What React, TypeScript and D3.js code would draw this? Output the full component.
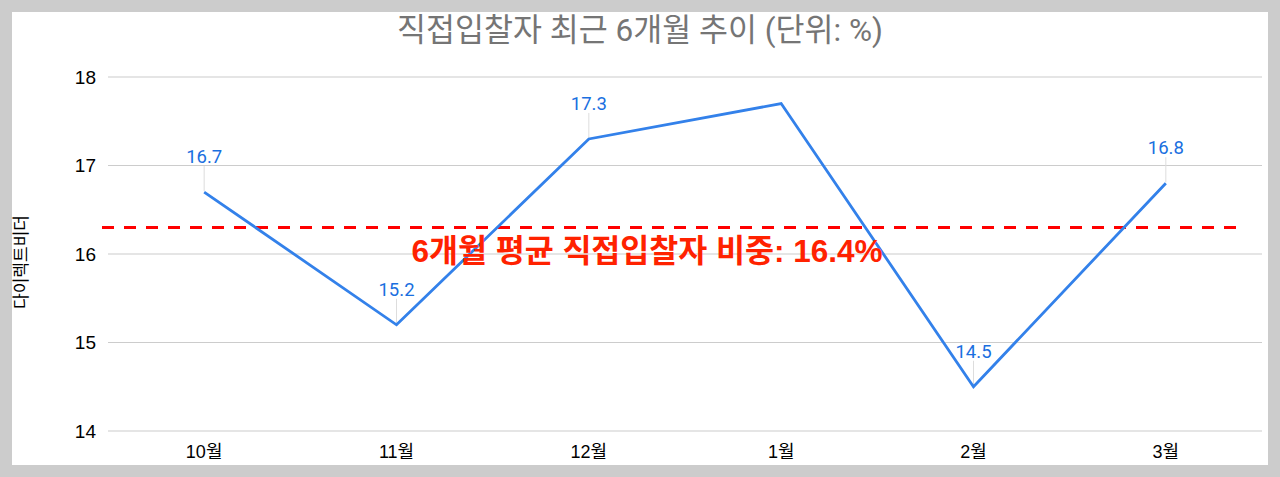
import * as d3 from "d3";

const months = ["10월", "11월", "12월", "1월", "2월", "3월"];
const shares = [16.7, 15.2, 17.3, 17.7, 14.5, 16.8];
const shownLabels = [true, true, true, false, true, true];
const yTicks = [14, 15, 16, 17, 18];
const avgLine = 16.3;
const title = "직접입찰자 최근 6개월 추이 (단위: %)";
const yTitle = "다이렉트비더";
const note = "6개월 평균 직접입찰자 비중: 16.4%";

const W = 1280;
const H = 477;
const plot = { left: 108, right: 1262, top: 77, bottom: 431 };
const LINE = "#3381ea";
const LABEL = "#1a6fe0";
const tickFont = "'Liberation Sans', Arial, 'Noto Sans CJK KR', sans-serif";
const titleFont = "Roboto, 'Noto Sans CJK KR', sans-serif";

export default function App() {
  const x = d3.scaleBand<string>().domain(months).range([plot.left, plot.right]);
  const y = d3.scaleLinear().domain([14, 18]).range([plot.bottom, plot.top]);
  const cx = (m: string) => (x(m) ?? 0) + x.bandwidth() / 2;

  const pts = months.map((m, i) => ({ m, v: shares[i], show: shownLabels[i] }));
  const line = d3.line<{ m: string; v: number }>().x(d => cx(d.m)).y(d => y(d.v));

  return (
    <div style={{ position: "absolute", left: 0, top: 0 }}>
      <svg width={W} height={H} style={{ display: "block" }}>
        <rect x={0} y={0} width={W} height={H} fill="#cccccc" />
        <rect x={12} y={12} width={1256} height={453} fill="#ffffff" />

        <text x={640} y={41} textAnchor="middle" fontFamily={titleFont} fontSize={31.5} fill="#757575">
          {title}
        </text>

        {/* grid + y ticks */}
        {yTicks.map(t => (
          <g key={t}>
            <line x1={plot.left} x2={plot.right} y1={y(t)} y2={y(t)} stroke="#cccccc" strokeWidth={1.2} />
            <text x={96} y={y(t)} dy="0.35em" textAnchor="end" fontFamily={tickFont} fontSize={19} fill="#000">
              {t}
            </text>
          </g>
        ))}

        {/* x labels */}
        {months.map(m => (
          <text key={m} x={cx(m)} y={458} textAnchor="middle" fontFamily={tickFont} fontSize={18} fill="#000">
            {m}
          </text>
        ))}

        <text
          transform={`translate(27,262) rotate(-90)`}
          textAnchor="middle"
          fontFamily={tickFont}
          fontSize={17}
          fill="#000"
        >
          {yTitle}
        </text>

        {/* average line */}
        <line
          x1={plot.left - 6}
          x2={plot.right - 17}
          y1={y(avgLine)}
          y2={y(avgLine)}
          stroke="#ff0000"
          strokeWidth={3}
          strokeDasharray="12 10"
        />

        {/* leader lines */}
        {pts.filter(p => p.show).map(p => (
          <line key={p.m} x1={cx(p.m)} x2={cx(p.m)} y1={y(p.v) - 1} y2={y(p.v) - 26} stroke="#dddddd" strokeWidth={1} />
        ))}

        <path d={line(pts) ?? ""} fill="none" stroke={LINE} strokeWidth={2.8} strokeLinejoin="miter" />

        {pts.filter(p => p.show).map(p => (
          <text key={p.m} x={cx(p.m)} y={y(p.v) - 29} textAnchor="middle" fontFamily={titleFont} fontSize={18.5} fill={LABEL}>
            {p.v.toFixed(1)}
          </text>
        ))}

        <text
          x={647}
          y={262}
          textAnchor="middle"
          fontFamily={tickFont}
          fontWeight="bold"
          fontSize={31.5}
          fill="#ff2200"
        >
          {note}
        </text>
      </svg>
    </div>
  );
}
